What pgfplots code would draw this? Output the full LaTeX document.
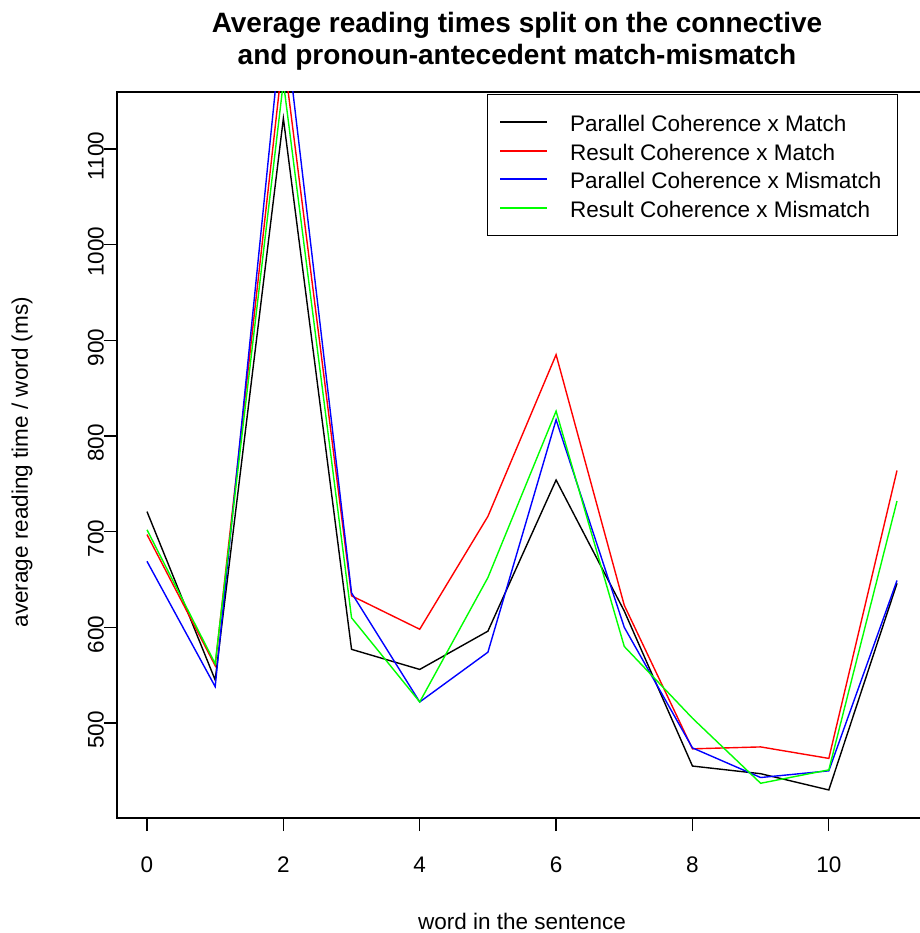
\documentclass[border=0pt]{standalone}
\usepackage{pgfplots}
\pgfplotsset{compat=1.18}
\usepackage{fontspec}
\setmainfont{Liberation Sans}
\definecolor{rblack}{RGB}{0,0,0}
\definecolor{rred}{RGB}{255,0,0}
\definecolor{rblue}{RGB}{0,0,255}
\definecolor{rgreen}{RGB}{0,255,0}
\pgfplotstableread{
x  pm    rm    pmm   rmm
0  721   697   669   702
1  545   560   538   562
2  1132  1200  1245  1170
3  577   633   636   610
4  556   598   522   522
5  596   716   574   652
6  754   885   817   826
7  617   623   600   580
8  455   473   474   505
9  447   475   443   437
10 430   463   450   451
11 646   764   649   732
}\datatable
\begin{document}
\begin{tikzpicture}
\path[use as bounding box] (-117pt,-115pt) rectangle (802pt,818pt);
\begin{axis}[
  at={(0pt,0pt)}, anchor=south west,
  scale only axis, width=810pt, height=726pt,
  xmin=-0.44, xmax=11.44, ymin=400.7, ymax=1159.6,
  xtick={0,2,...,10}, ytick={500,600,...,1100},
  tick align=outside, tick pos=left,
  major tick length=13pt,
  tick style={line width=1.2pt, black},
  axis line style={line width=1.2pt, black},
  /pgf/number format/assume math mode=true,
  /pgf/number format/1000 sep={},
  tick label style={font=\fontsize{22.5}{27}\selectfont},
  xticklabel style={anchor=north, inner sep=0pt, yshift=-26pt},
  yticklabel style={rotate=90, anchor=south, inner sep=0pt, xshift=-7pt},
  xlabel={word in the sentence},
  ylabel={average reading time / word (ms)},
  label style={font=\fontsize{22.5}{27}\selectfont},
  xlabel style={at={(axis description cs:0.5,-0.1529)}, anchor=base, inner sep=0pt},
  ylabel style={at={(axis description cs:-0.1173,0.49)}, anchor=center, inner sep=0pt},
  title={Average reading times split on the connective\\and pronoun-antecedent match-mismatch},
  title style={at={(axis description cs:0.4938,1.1019)}, anchor=north, inner sep=0pt, align=center, font=\fontsize{28}{32}\selectfont\bfseries},
  legend style={at={(axis description cs:0.4568,0.9972)}, anchor=north west,
    draw=black, line width=1pt,
    font=\fontsize{22.5}{27}\selectfont,
    inner xsep=12pt, inner ysep=13.5pt, row sep=0pt, column sep=18pt,
    nodes={inner xsep=4pt, inner ysep=3.75pt, text height=20pt, text depth=1pt}},
  legend cell align=left,
  legend image code/.code={\draw[#1, line width=1.6pt] (0pt,0pt) -- (47pt,0pt);},
]
\addplot[draw=rblack, line width=1.4pt] table[x=x, y=pm] {\datatable};
\addlegendentry{Parallel Coherence x Match}
\addplot[draw=rred, line width=1.4pt] table[x=x, y=rm] {\datatable};
\addlegendentry{Result Coherence x Match}
\addplot[draw=rblue, line width=1.4pt] table[x=x, y=pmm] {\datatable};
\addlegendentry{Parallel Coherence x Mismatch}
\addplot[draw=rgreen, line width=1.4pt] table[x=x, y=rmm] {\datatable};
\addlegendentry{Result Coherence x Mismatch}
\end{axis}
\end{tikzpicture}
\end{document}
